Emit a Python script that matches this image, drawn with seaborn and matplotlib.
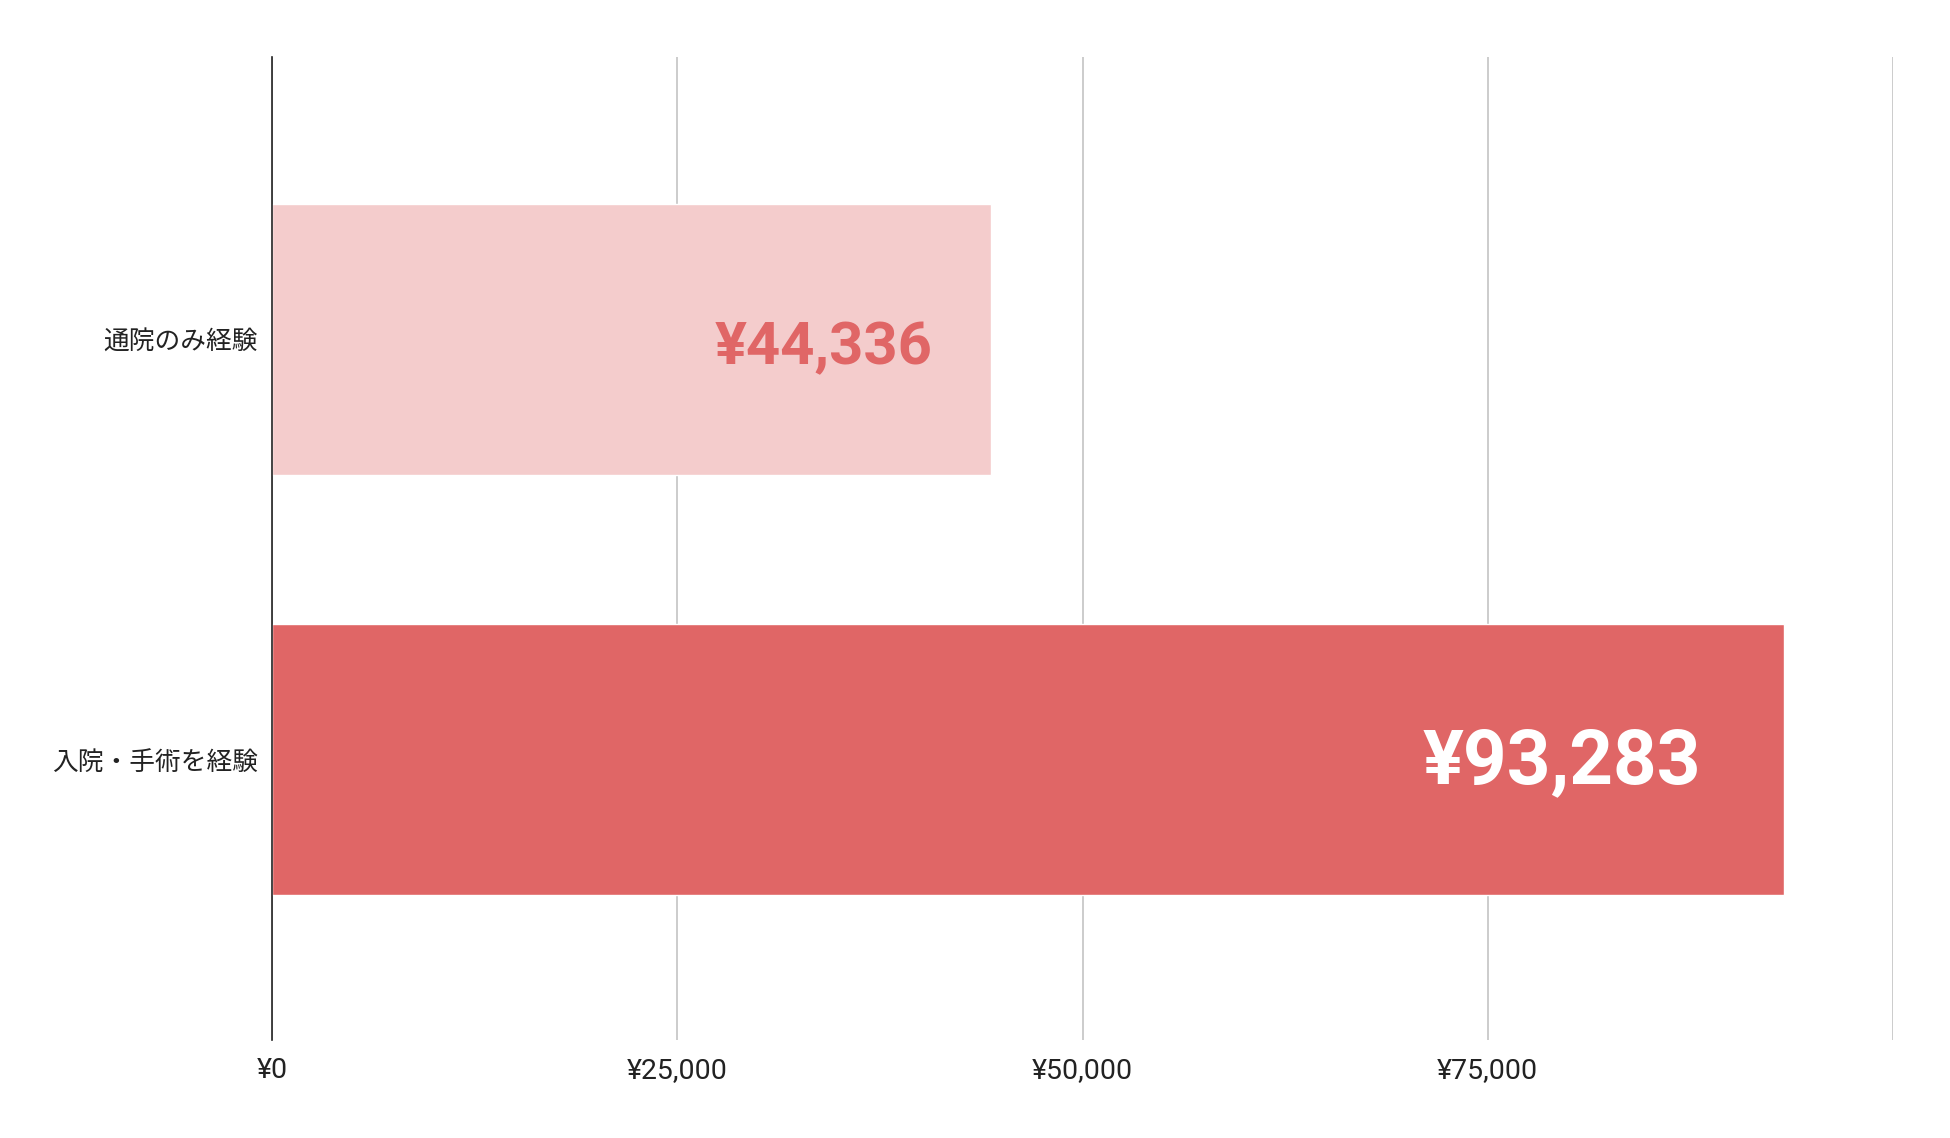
import matplotlib.pyplot as plt
import seaborn as sns

# data
categories = ['通院のみ経験', '入院・手術を経験']
values = [44336, 93283]
bar_colors = ['#F4CCCC', '#E06666']
x_ticks = [0, 25000, 50000, 75000, 100000]
x_tick_labels = ['¥0', '¥25,000', '¥50,000', '¥75,000', '']

# value label styling per bar
label_colors = ['#E06666', '#FFFFFF']
label_sizes = [43, 55]
label_pads = [42, 60]
label_dy = [-6, -2]

sns.set_theme(style='white')
plt.rcParams['font.family'] = ['Roboto', 'Noto Sans CJK JP', 'DejaVu Sans']

fig = plt.figure(figsize=(19.5, 11.38), dpi=100)
ax = fig.add_axes([0.1395, 0.0861, 0.8313, 0.8639])

sns.barplot(x=values, y=categories, hue=categories, palette=bar_colors,
            legend=False, width=0.645, saturation=1, ax=ax)

ax.set_xlim(0, 100000)
ax.set_ylim(1.668, -0.673)
ax.set_xticks(x_ticks)
ax.set_xticklabels(x_tick_labels, fontsize=20.5, color='#222222')
ax.set_yticks(range(len(categories)))
ax.set_yticklabels(categories, fontsize=18.5, color='#222222',
                   family=['Noto Sans CJK JP', 'DejaVu Sans'])
ax.tick_params(axis='x', length=0, pad=12)
ax.tick_params(axis='y', length=0, pad=10)
ax.set_xlabel('')
ax.set_ylabel('')

ax.grid(axis='x', color='#cccccc', linewidth=1.4)
ax.set_axisbelow(True)
for side in ['top', 'right', 'bottom']:
    ax.spines[side].set_visible(False)
ax.spines['left'].set_color('#222222')
ax.spines['left'].set_linewidth(1.2)
ax.spines['left'].set_zorder(3)

# value labels inside the bars
for i, v in enumerate(values):
    ax.annotate(f'¥{v:,}', xy=(v, i), xytext=(-label_pads[i], label_dy[i]),
                textcoords='offset points', ha='right', va='center',
                fontsize=label_sizes[i], fontweight='bold',
                color=label_colors[i], family=['Roboto', 'DejaVu Sans'])

plt.savefig('out.png', dpi=100)
